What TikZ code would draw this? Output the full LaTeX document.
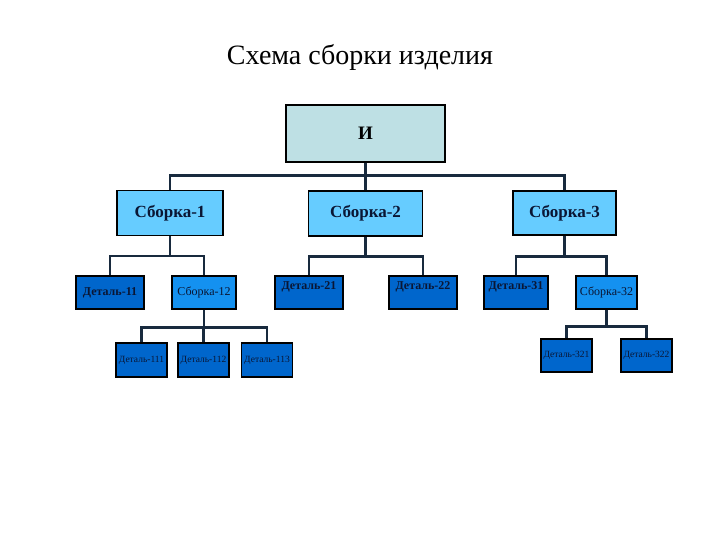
\documentclass[tikz,border=0pt]{standalone}
\usepackage{fontspec}
\setmainfont{Liberation Serif}
\usepackage{tikz}
\definecolor{rootfill}{RGB}{190,224,228}
\definecolor{asmfill}{RGB}{102,204,255}
\definecolor{subfill}{RGB}{20,145,240}
\definecolor{partfill}{RGB}{0,102,204}
\definecolor{linkcol}{RGB}{24,42,62}
\definecolor{textcol}{RGB}{10,22,52}

\begin{document}
\begin{tikzpicture}[x=1pt, y=-1pt,
  box/.style={draw=black, line width=1.2pt, inner sep=0pt, align=center},
  rootbox/.style={box, fill=rootfill, minimum width=159pt, minimum height=57pt, font=\fontsize{19}{21}\selectfont\bfseries},
  asmbox/.style={box, fill=asmfill, minimum height=45pt, font=\fontsize{17}{19}\selectfont\bfseries, text=textcol},
  partbox/.style={box, fill=partfill, minimum height=33pt, font=\fontsize{12}{14}\selectfont\bfseries, text=textcol},
  subbox/.style={partbox, fill=subfill, font=\fontsize{12}{14}\selectfont},
  smallbox/.style={box, fill=partfill, minimum width=51pt, minimum height=34pt, font=\fontsize{9.5}{11}\selectfont, text=textcol},
  hightext/.style={text height=8.4pt, text depth=14pt},
  link/.style={draw=linkcol, line width=2.4pt}]
\useasboundingbox (0,0) rectangle (720,540);

\node (title) at (360,57) {\fontsize{28}{32}\selectfont Схема сборки изделия};

\node[rootbox] (root) at (365.5,133.5) {И};

\node[asmbox, minimum width=106pt] (s1) at (170,213) {Сборка-1};
\node[asmbox, minimum width=114pt] (s2) at (365.5,213.5) {Сборка-2};
\node[asmbox, minimum width=103pt, minimum height=44pt] (s3) at (564.5,213) {Сборка-3};
\draw[link] (root.south) -- ++(0,13) -| (s1.north);
\draw[link] (root.south) -- ++(0,13) -| (s2.north);
\draw[link] (root.south) -- ++(0,13) -| (s3.north);

\node[partbox, minimum width=68pt] (d11) at (110,292.5) {Деталь-11};
\node[subbox, minimum width=64pt] (s12) at (204,292.5) {Сборка-12};
\draw[link] (s1.south) -- ++(0,20) -| (d11.north);
\draw[link] (s1.south) -- ++(0,20) -| (s12.north);

\node[partbox, hightext, minimum width=68pt] (d21) at (309,292.5) {Деталь-21};
\node[partbox, hightext, minimum width=68pt] (d22) at (423,292.5) {Деталь-22};
\draw[link] (s2.south) -- ++(0,20) -| (d21.north);
\draw[link] (s2.south) -- ++(0,20) -| (d22.north);

\node[partbox, hightext, minimum width=64pt] (d31) at (516,292.5) {Деталь-31};
\node[subbox, minimum width=61pt] (s32) at (606.5,292.5) {Сборка-32};
\draw[link] (s3.south) -- ++(0,21) -| (d31.north);
\draw[link] (s3.south) -- ++(0,21) -| (s32.north);

\node[smallbox] (d111) at (141.5,360) {Деталь-111};
\node[smallbox] (d112) at (203.5,360) {Деталь-112};
\node[smallbox] (d113) at (267,360) {Деталь-113};
\draw[link] (s12.south) -- ++(0,18) -| (d111.north);
\draw[link] (s12.south) -- ++(0,18) -| (d112.north);
\draw[link] (s12.south) -- ++(0,18) -| (d113.north);

\node[smallbox, minimum height=33pt] (d321) at (566.5,355.5) {Деталь-321};
\node[smallbox, minimum height=33pt] (d322) at (646.5,355.5) {Деталь-322};
\draw[link] (s32.south) -- ++(0,17) -| (d321.north);
\draw[link] (s32.south) -- ++(0,17) -| (d322.north);
\end{tikzpicture}
\end{document}
